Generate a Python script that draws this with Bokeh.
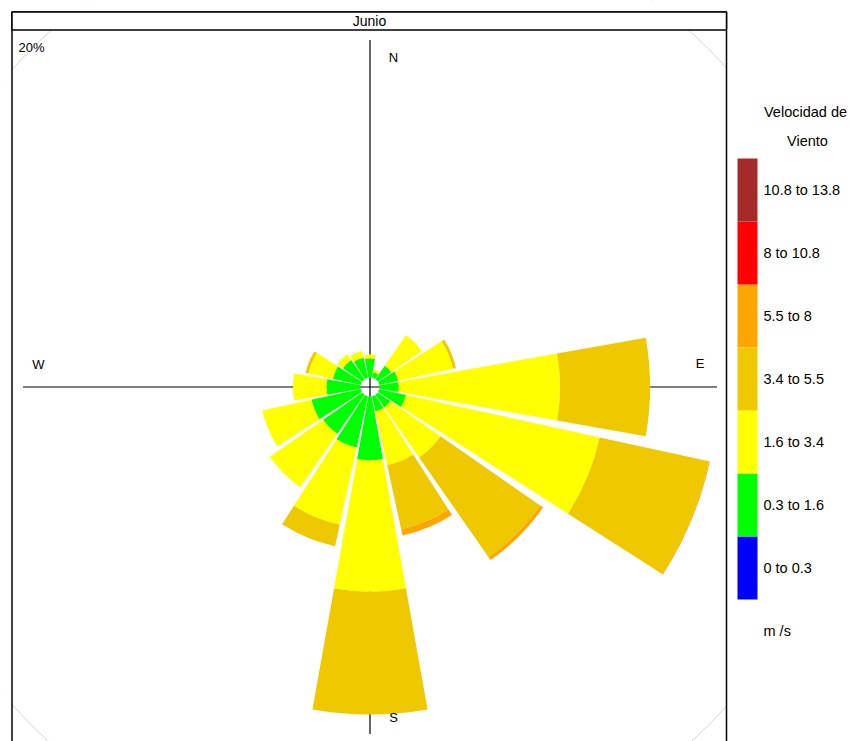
from bokeh.plotting import figure
from bokeh.models import Range1d, ColumnDataSource
from bokeh.core.properties import value
from bokeh.embed import file_html
from bokeh.resources import INLINE

# wind directions (degrees clockwise from north) and speed classes
directions = [0, 22.5, 45, 67.5, 90, 112.5, 135, 157.5, 180, 202.5, 225, 247.5, 270, 292.5, 315, 337.5]
speed_bins = ['0 to 0.3', '0.3 to 1.6', '1.6 to 3.4', '3.4 to 5.5', '5.5 to 8', '8 to 10.8', '10.8 to 13.8']
bin_colors = ['#0000FF', '#00FF00', '#FFFF00', '#EEC900', '#FFA500', '#FF0000', '#A52A2A']

# frequency (%) per direction for each speed class
freq_0_03 = [0, 0, 0, 0, 0, 0, 0, 0, 0, 0, 0, 0, 0, 0, 0, 0]
freq_03_16 = [0.81, 0.24, 0.70, 0.83, 0.83, 1.17, 0.66, 0.66, 2.73, 2.24, 2.03, 2.15, 1.45, 1.22, 1.00, 0.87]
freq_16_34 = [0.17, 0.12, 1.58, 2.39, 6.87, 8.45, 2.60, 2.35, 5.59, 3.37, 2.77, 2.14, 1.43, 1.06, 0.30, 0.30]
freq_34_55 = [0, 0, 0, 0.13, 3.84, 4.77, 5.18, 2.79, 5.24, 0.94, 0, 0, 0, 0.13, 0, 0]
freq_55_8 = [0, 0, 0, 0, 0, 0.04, 0.15, 0.28, 0, 0, 0, 0, 0, 0, 0, 0]
freq_8_108 = [0, 0, 0, 0, 0, 0, 0, 0, 0, 0, 0, 0, 0, 0, 0, 0]
freq_108_138 = [0, 0, 0, 0, 0, 0, 0, 0, 0, 0, 0, 0, 0, 0, 0, 0]
bands = [freq_0_03, freq_03_16, freq_16_34, freq_34_55, freq_55_8, freq_8_108, freq_108_138]

grid_levels = [20]
compass = ['N', 'E', 'S', 'W']
panel_title = 'Junio'
legend_title = ['Velocidad de', 'Viento']
units_label = 'm /s'

PX = 23.45      # pixels per percentage point
OFF = 0.405     # centre hole (offset)
CX, CY = 369.5, 386.5   # centre in page pixels
FONT = value('Liberation Sans')


def dx(px):
    return (px - CX) / PX


def dy(py):
    return (CY - py) / PX


p = figure(width=850, height=741, x_range=Range1d(dx(0), dx(850)), y_range=Range1d(dy(741), dy(0)),
           tools='', toolbar_location=None, output_backend='svg',
           x_axis_location=None, y_axis_location=None, min_border=0)
p.grid.visible = False
p.outline_line_color = None
p.background_fill_color = 'white'
p.border_fill_color = 'white'

# grid circle
for g in grid_levels:
    p.circle(x=[0], y=[0], radius=g + OFF, fill_color=None, line_color='#D3D3D3', line_width=1)

# axis cross
ax_len = 347 / PX
p.segment(x0=[0, -ax_len], y0=[-ax_len, 0], x1=[0, ax_len], y1=[ax_len, 0], line_color='black', line_width=1.2)

# wedges
half = 0.9 * 22.5 / 2
cum = [0.0] * len(directions)
for freqs, col in zip(bands, bin_colors):
    inner, outer, start, end = [], [], [], []
    for i, d in enumerate(directions):
        if freqs[i] > 0:
            inner.append(OFF + cum[i])
            outer.append(OFF + cum[i] + freqs[i])
            start.append(90 - d - half)
            end.append(90 - d + half)
        cum[i] += freqs[i]
    if inner:
        src = ColumnDataSource(dict(x=[0] * len(inner), y=[0] * len(inner), inner=inner, outer=outer,
                                    start=start, end=end))
        p.annular_wedge(x='x', y='y', inner_radius='inner', outer_radius='outer', start_angle='start',
                        end_angle='end', start_angle_units='deg', end_angle_units='deg', source=src,
                        fill_color=col, line_color=None)

# compass labels
lab_r = 330 / PX
shift = 23.5 / PX
p.text(x=[shift, lab_r, shift, -lab_r - 1.5 / PX], y=[lab_r, shift, -lab_r, shift - 1 / PX], text=compass,
       text_font=FONT, text_font_size='13px', text_align='center', text_baseline='middle', text_color='black')

# mask everything outside the panel
p.quad(left=[dx(0), dx(0), dx(726)], right=[dx(11.5), dx(850), dx(850)], top=[dy(0), dy(0), dy(0)],
       bottom=[dy(741), dy(11.5), dy(741)], fill_color='white', line_color=None)

# panel border and strip
p.quad(left=[dx(11.5)], right=[dx(726)], top=[dy(11.5)], bottom=[dy(760)], fill_color=None,
       line_color='black', line_width=1.5)
p.quad(left=[dx(11.5)], right=[dx(726)], top=[dy(11.5)], bottom=[dy(29.5)], fill_color='white',
       line_color='black', line_width=1.5)
p.text(x=[dx(369)], y=[dy(20.5)], text=[panel_title], text_font=FONT, text_font_size='14px',
       text_align='center', text_baseline='middle', text_color='black')
for g in grid_levels:
    p.text(x=[dx(18)], y=[dy(47)], text=[f'{g}%'], text_font=FONT, text_font_size='13px',
           text_align='left', text_baseline='middle', text_color='black')

# colour key
seg = 63
key_top = 158
n = len(speed_bins)
tops = [dy(key_top + (n - 1 - k) * seg) for k in range(n)]
bots = [dy(key_top + (n - k) * seg) for k in range(n)]
p.quad(left=[dx(737)] * n, right=[dx(757)] * n, top=tops, bottom=bots, fill_color=bin_colors, line_color=None)
p.text(x=[dx(763)] * n, y=[(t + b) / 2 for t, b in zip(tops, bots)], text=speed_bins, text_font=FONT,
       text_font_size='14.5px', text_align='left', text_baseline='middle', text_color='black')
p.text(x=[dx(805), dx(807)], y=[dy(111), dy(140)], text=legend_title, text_font=FONT, text_font_size='14.5px',
       text_align='center', text_baseline='middle', text_color='black')
p.text(x=[dx(763)], y=[dy(630)], text=[units_label], text_font=FONT, text_font_size='14.5px',
       text_align='left', text_baseline='middle', text_color='black')

open("out.html", "w").write(file_html(p, INLINE))
